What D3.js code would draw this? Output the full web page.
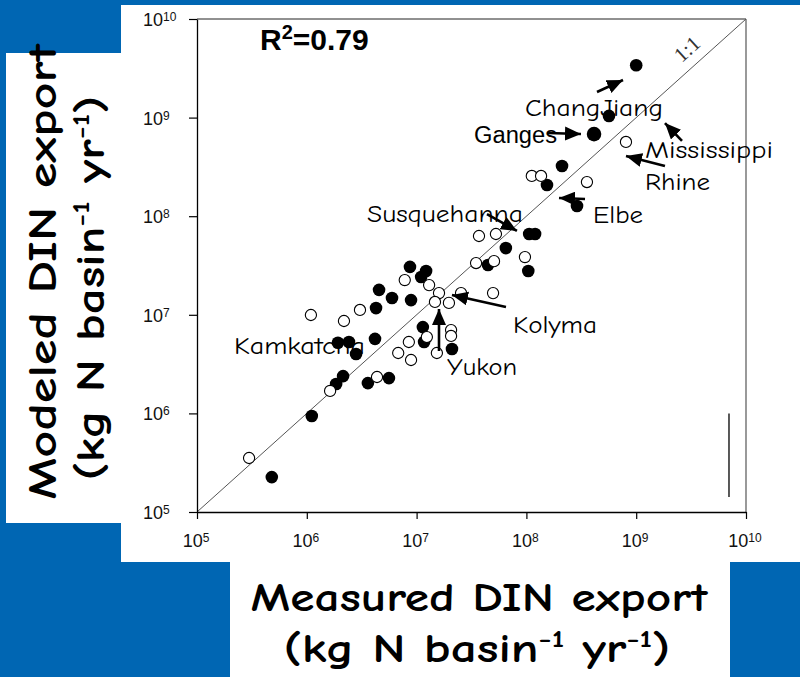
<!DOCTYPE html>
<html>
<head>
<meta charset="utf-8">
<script src="https://cdn.jsdelivr.net/npm/d3@7"></script>
<style>
  html, body { margin: 0; padding: 0; background: #0066b3; }
  svg { display: block; }
</style>
</head>
<body>
<svg id="chart" width="800" height="677"></svg>
<script>
// DIN export per basin: measured vs modeled (kg N basin^-1 yr^-1)
const measuredFilled = [1.0e9, 5.65e8, 4.13e8, 2.11e8, 1.54e8, 2.89e8, 1.06e8, 1.2e8, 6.5e7, 4.47e7,
  1.04e8, 8.7e6, 1.22e7, 1.10e7, 4.55e6, 5.97e6, 8.9e6, 4.27e6, 1.14e7, 1.17e7,
  2.1e7, 4.18e6, 1.92e6, 2.42e6, 2.81e6, 2.14e6, 1.85e6, 3.6e6, 5.6e6, 1.11e6, 4.8e5];
const modeledFilled = [3.4e9, 1.04e9, 6.8e8, 3.23e8, 2.07e8, 1.27e8, 6.6e7, 6.6e7, 4.75e7, 3.2e7,
  2.78e7, 3.06e7, 2.78e7, 2.42e7, 1.79e7, 1.48e7, 1.41e7, 1.17e7, 7.5e6, 5.3e6,
  4.5e6, 5.7e6, 5.2e6, 5.3e6, 4.0e6, 2.39e6, 1.99e6, 2.03e6, 2.28e6, 9.4e5, 2.26e5];

const measuredOpen = [8.07e8, 1.12e8, 1.36e8, 3.56e8, 3.7e7, 5.28e7, 3.48e7, 5.07e7, 9.7e7, 4.97e7,
  2.54e7, 7.8e6, 1.30e7, 1.6e7, 1.47e7, 1.97e7, 2.06e7, 2.06e7, 1.24e7, 8.5e6,
  1.53e7, 8.9e6, 6.8e6, 4.36e6, 1.09e6, 2.18e6, 3.05e6, 1.63e6, 2.98e5];
const modeledOpen = [5.66e8, 2.56e8, 2.56e8, 2.22e8, 6.3e7, 6.6e7, 3.35e7, 3.5e7, 3.85e7, 1.66e7,
  1.66e7, 2.25e7, 2.0e7, 1.66e7, 1.35e7, 1.32e7, 7.0e6, 6.1e6, 5.95e6, 5.3e6,
  4.1e6, 3.48e6, 4.1e6, 2.34e6, 9.95e6, 8.65e6, 1.12e7, 1.69e6, 3.53e5];

const tickValues = [1e5, 1e6, 1e7, 1e8, 1e9, 1e10];
const tickExponents = ["5", "6", "7", "8", "9", "10"];
const r2Label = "0.79";

// River labels (anchor and arrow ends given as log10 of measured / modeled)
const riverNames = ["ChangJiang", "Ganges", "Mississippi", "Rhine", "Elbe", "Susquehanna", "Kolyma", "Yukon", "Kamkatcha"];
const labelAnchor = [[7.987, 9.016], [7.523, 8.742], [9.080, 8.590], [9.080, 8.266], [8.607, 7.931],
  [6.548, 7.941], [7.878, 6.815], [7.277, 6.389], [5.337, 6.602]];
const arrowTail = [[8.643, 9.260], [8.197, 8.844], [9.417, 8.763], [9.262, 8.509], [8.534, 8.174],
  [7.641, 8.022], [7.814, 7.079], [7.204, 6.633], null];
const arrowTip = [[8.880, 9.381], [8.497, 8.834], [9.262, 8.945], [8.907, 8.611], [8.297, 8.185],
  [7.914, 7.850], [7.322, 7.201], [7.204, 7.059], null];

const comic = "'Comic Sans MS', 'Comic Neue', 'DejaVu Sans', sans-serif";
const arial = "'Liberation Sans', Arial, sans-serif";

const svg = d3.select("#chart");

// white panels on the blue slide
svg.append("rect").attr("x", 121).attr("y", 5).attr("width", 679).attr("height", 557).attr("fill", "#fff");
svg.append("rect").attr("x", 6).attr("y", 53).attr("width", 115).attr("height", 470).attr("fill", "#fff");
svg.append("rect").attr("x", 230).attr("y", 562).attr("width", 500).attr("height", 115).attr("fill", "#fff");

const x = d3.scaleLog().domain([1e5, 1e10]).range([197, 746]);
const y = d3.scaleLog().domain([1e5, 1e10]).range([512, 19]);
const pw = v => Math.pow(10, v);

// frame: top and right edges
svg.append("line").attr("x1", x(1e5)).attr("x2", x(1e10)).attr("y1", y(1e10)).attr("y2", y(1e10))
  .attr("stroke", "#222").attr("stroke-width", 1);
svg.append("line").attr("x1", x(1e10)).attr("x2", x(1e10)).attr("y1", y(1e10)).attr("y2", y(1e5))
  .attr("stroke", "#808080").attr("stroke-width", 1.6);

// 1:1 line
svg.append("line").attr("x1", x(1e5)).attr("y1", y(1e5)).attr("x2", x(1e10)).attr("y2", y(1e10))
  .attr("stroke", "#555").attr("stroke-width", 1);
const ang = Math.atan2(y(1e5) - y(1e10), x(1e10) - x(1e5)) * 180 / Math.PI;
svg.append("text").attr("transform", `translate(${x(pw(9.463))},${y(pw(9.696))}) rotate(${-ang})`)
  .attr("text-anchor", "middle").attr("dominant-baseline", "central")
  .attr("font-family", "'Liberation Serif', serif").attr("font-size", 21)
  .attr("fill", "#333").text("1:1");

// axes
const gx = svg.append("g").attr("transform", `translate(0,${y(1e5)})`)
  .call(d3.axisBottom(x).tickValues(tickValues).tickSize(7).tickSizeOuter(0).tickFormat(""));
const gy = svg.append("g").attr("transform", `translate(${x(1e5)},0)`)
  .call(d3.axisLeft(y).tickValues(tickValues).tickSize(8).tickSizeOuter(0).tickFormat(""));
[gx, gy].forEach(g => {
  g.select(".domain").attr("stroke", "#000").attr("stroke-width", 1.3);
  g.selectAll(".tick line").attr("stroke", "#000").attr("stroke-width", 1.2);
});

function powerLabel(sel, exp) {
  sel.append("tspan").text("10");
  sel.append("tspan").attr("font-size", 12).attr("dy", -5).text(exp);
}
tickValues.forEach((v, i) => {
  const tx = svg.append("text").attr("x", x(v) - 1).attr("y", y(1e5) + 35)
    .attr("text-anchor", "middle").attr("font-family", arial).attr("font-size", 18).attr("fill", "#111");
  powerLabel(tx, tickExponents[i]);
  const ty = svg.append("text").attr("x", 143).attr("y", y(v) + 7)
    .attr("text-anchor", "start").attr("font-family", arial).attr("font-size", 18).attr("fill", "#111");
  powerLabel(ty, tickExponents[i]);
});

// scale bar at the right edge
svg.append("line").attr("x1", x(7e9)).attr("x2", x(7e9)).attr("y1", y(1e6)).attr("y2", y(1.42e5))
  .attr("stroke", "#000").attr("stroke-width", 1.3);

// data points
const filled = measuredFilled.map((m, i) => ({ m, p: modeledFilled[i] }));
const open = measuredOpen.map((m, i) => ({ m, p: modeledOpen[i] }));
svg.append("g").selectAll("circle").data(filled).join("circle")
  .attr("cx", d => x(d.m)).attr("cy", d => y(d.p)).attr("r", (d, i) => i === 2 ? 7.3 : 6.3)
  .attr("fill", "#000");
svg.append("g").selectAll("circle").data(open).join("circle")
  .attr("cx", d => x(d.m)).attr("cy", d => y(d.p)).attr("r", 5.6)
  .attr("fill", "#fff").attr("stroke", "#000").attr("stroke-width", 1.1);

// R²
const rt = svg.append("text").attr("x", 260).attr("y", 50).attr("font-family", arial)
  .attr("font-weight", "bold").attr("font-size", 30).attr("fill", "#000");
rt.append("tspan").text("R");
rt.append("tspan").attr("font-size", 20).attr("dy", -11).text("2");
rt.append("tspan").attr("dy", 11).text("=" + r2Label);

// arrows
const defs = svg.append("defs");
defs.append("marker").attr("id", "head").attr("viewBox", "0 0 16 14")
  .attr("refX", 16).attr("refY", 7).attr("markerWidth", 16).attr("markerHeight", 14)
  .attr("markerUnits", "userSpaceOnUse").attr("orient", "auto")
  .append("path").attr("d", "M0,0 L16,7 L0,14 Z").attr("fill", "#000");
riverNames.forEach((n, i) => {
  if (!arrowTail[i]) return;
  svg.append("line")
    .attr("x1", x(pw(arrowTail[i][0]))).attr("y1", y(pw(arrowTail[i][1])))
    .attr("x2", x(pw(arrowTip[i][0]))).attr("y2", y(pw(arrowTip[i][1])))
    .attr("stroke", "#000").attr("stroke-width", 2.6).attr("marker-end", "url(#head)");
});

// river names
const labelWidth = [138, 83, 128, 65, 50, 156, 84, 70, 131];
riverNames.forEach((n, i) => {
  svg.append("text")
    .attr("x", x(pw(labelAnchor[i][0]))).attr("y", y(pw(labelAnchor[i][1])))
    .attr("font-family", n === "Ganges" ? arial : comic)
    .attr("font-size", n === "Ganges" ? 23 : 25).attr("fill", "#000")
    .attr("textLength", labelWidth[i]).attr("lengthAdjust", "spacingAndGlyphs")
    .text(n);
});

// axis titles
function unitLine(sel) {
  sel.append("tspan").text("(kg N basin");
  sel.append("tspan").attr("font-size", 25).attr("dy", -15).text("-1");
  sel.append("tspan").attr("dy", 15).text(" yr");
  sel.append("tspan").attr("font-size", 25).attr("dy", -15).text("-1");
  sel.append("tspan").attr("dy", 15).text(")");
}
const titleStyle = s => s.attr("font-family", comic).attr("font-weight", "bold")
  .attr("font-size", 40).attr("fill", "#000").attr("text-anchor", "middle");

const xt1 = svg.append("g").attr("transform", "translate(479,611)");
const xt1t = xt1.append("text").call(titleStyle).text("Measured DIN export");
const xt2 = svg.append("g").attr("transform", "translate(477,662)");
const xt2t = xt2.append("text").call(titleStyle); unitLine(xt2t);

const yt1 = svg.append("g").attr("transform", "translate(56,272) rotate(-90)");
const yt1t = yt1.append("text").call(titleStyle).text("Modeled DIN export");
const yt2 = svg.append("g").attr("transform", "translate(104,288) rotate(-90)");
const yt2t = yt2.append("text").call(titleStyle); unitLine(yt2t);

// squeeze each title line to its column width
[[xt1t, 458], [xt2t, 387], [yt1t, 457], [yt2t, 385]].forEach(([t, w]) => {
  const s = w / t.node().getBBox().width;
  t.attr("transform", `scale(${s},1)`);
});
</script>
</body>
</html>
